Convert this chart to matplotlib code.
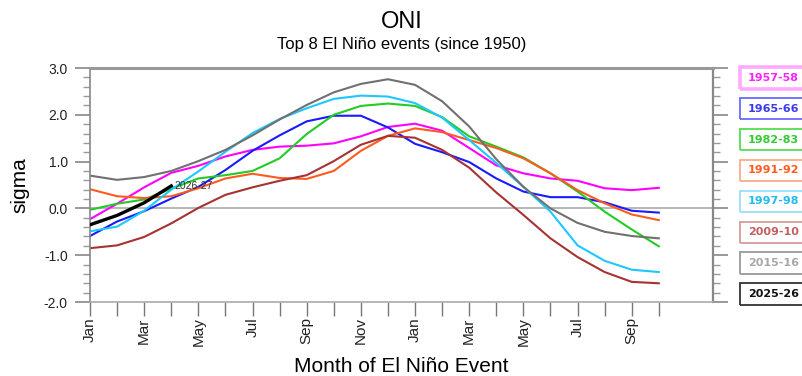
import matplotlib
matplotlib.use("Agg")
import matplotlib.pyplot as plt
from matplotlib.patches import Rectangle
from matplotlib.ticker import MultipleLocator, FixedLocator

months = ["Jan", "Feb", "Mar", "Apr", "May", "Jun", "Jul", "Aug", "Sep", "Oct", "Nov", "Dec",
          "Jan", "Feb", "Mar", "Apr", "May", "Jun", "Jul", "Aug", "Sep", "Oct"]
tick_labels = ["Jan", "", "Mar", "", "May", "", "Jul", "", "Sep", "", "Nov", "",
               "Jan", "", "Mar", "", "May", "", "Jul", "", "Sep", ""]

events = ["1957-58", "1965-66", "1982-83", "1991-92", "1997-98", "2009-10", "2015-16", "2025-26"]

oni_1957 = [-0.23, 0.10, 0.45, 0.76, 0.91, 1.11, 1.25, 1.32, 1.34, 1.39, 1.54, 1.74,
            1.81, 1.66, 1.29, 0.92, 0.75, 0.64, 0.59, 0.43, 0.39, 0.44]
oni_1965 = [-0.59, -0.28, -0.06, 0.21, 0.46, 0.82, 1.23, 1.56, 1.86, 1.98, 1.98, 1.73,
            1.38, 1.20, 0.99, 0.64, 0.36, 0.24, 0.24, 0.13, -0.05, -0.09]
oni_1982 = [-0.03, 0.10, 0.19, 0.42, 0.64, 0.71, 0.80, 1.07, 1.59, 2.00, 2.19, 2.24,
            2.19, 1.95, 1.54, 1.32, 1.09, 0.75, 0.36, -0.07, -0.45, -0.81]
oni_1991 = [0.41, 0.26, 0.22, 0.26, 0.43, 0.64, 0.74, 0.65, 0.63, 0.80, 1.23, 1.55,
            1.71, 1.63, 1.46, 1.29, 1.07, 0.75, 0.39, 0.11, -0.13, -0.25]
oni_1997 = [-0.49, -0.39, -0.05, 0.40, 0.79, 1.21, 1.61, 1.91, 2.14, 2.34, 2.41, 2.39,
            2.25, 1.94, 1.46, 0.97, 0.46, -0.07, -0.79, -1.12, -1.31, -1.36]
oni_2009 = [-0.85, -0.79, -0.61, -0.32, 0.01, 0.29, 0.45, 0.59, 0.71, 1.01, 1.36, 1.55,
            1.51, 1.25, 0.87, 0.34, -0.14, -0.64, -1.04, -1.36, -1.57, -1.60]
oni_2015 = [0.70, 0.61, 0.67, 0.80, 1.01, 1.25, 1.56, 1.90, 2.21, 2.48, 2.66, 2.76,
            2.64, 2.29, 1.75, 1.05, 0.46, 0.00, -0.31, -0.50, -0.59, -0.64]
oni_2025 = [-0.35, -0.15, 0.12, 0.48]

series = [oni_1957, oni_1965, oni_1982, oni_1991, oni_1997, oni_2009, oni_2015, oni_2025]
line_colors = ["#ff00ff", "#1a1aff", "#22cc22", "#ff5a1f", "#1ec8ff", "#a83232", "#707070", "#000000"]
text_colors = ["#ff22ff", "#3a3aee", "#33cc33", "#ff5a1f", "#22bbee", "#c06060", "#a8a8a8", "#111111"]
box_colors = ["#ffaaff", "#6a6aff", "#55dd55", "#ffaa88", "#99e0ff", "#d89a9a", "#999999", "#333333"]
current_label = "2026-27"

W, H = 803, 376
fig = plt.figure(figsize=(W / 100, H / 100), dpi=100)
ax = fig.add_axes([90 / W, 1 - 302 / H, (713 - 90) / W, (302 - 68) / H])

plt.rcParams["font.family"] = ["Liberation Sans", "DejaVu Sans"]

ax.axhline(0, color="#aaaaaa", lw=1.2, zorder=1)
for vals, col in zip(series, line_colors):
    lw = 2.4 if col == "#000000" else 1.5
    ax.plot(range(len(vals)), vals, color=col, lw=lw, zorder=3 if col == "#000000" else 2)

ax.annotate(current_label, xy=(len(oni_2025) - 1, oni_2025[-1]), xytext=(2.5, 0),
            textcoords="offset points", ha="left", va="center", fontsize=7.5,
            color="#333333", family="Liberation Sans")

ax.set_xlim(0, 23)
ax.set_ylim(-2, 3)
ax.xaxis.set_major_locator(FixedLocator(list(range(len(months)))))
ax.set_xticklabels(tick_labels, rotation=90, fontsize=11, family="Liberation Sans")
ax.yaxis.set_major_locator(MultipleLocator(1.0))
ax.yaxis.set_minor_locator(MultipleLocator(0.2))
ax.set_yticklabels([f"{v:.1f}" for v in ax.get_yticks()], fontsize=10, family="Liberation Sans")
ax.set_ylim(-2, 3)

ax.tick_params(axis="x", which="major", direction="out", length=10, width=1.0,
               color="#777777", pad=1, labelcolor="#222222")
ax.tick_params(axis="y", which="major", direction="out", length=11, width=1.2,
               color="#888888", pad=5, labelcolor="#222222", right=True)
ax.tick_params(axis="y", which="minor", direction="out", length=5, width=1.0,
               color="#999999", right=True)

for side in ["left", "right", "bottom"]:
    ax.spines[side].set_color("#888888")
    ax.spines[side].set_linewidth(1.2)
ax.spines["bottom"].set_color("#aaaaaa")
ax.spines["top"].set_color("#999999")
ax.spines["top"].set_linewidth(2.2)
ax.spines["right"].set_linewidth(1.6)

ax.set_ylabel("sigma", fontsize=15, family="Liberation Sans", labelpad=10)
ax.set_xlabel("Month of El Niño Event", fontsize=15, family="Liberation Sans", labelpad=8)

fig.text(0.5, 1 - 22 / H, "ONI", ha="center", va="center", fontsize=17, family="Liberation Sans")
fig.text(0.5, 1 - 45 / H, "Top 8 El Niño events (since 1950)", ha="center", va="center",
         fontsize=12, family="Liberation Sans")

# legend boxes
for k, (name, tc, bc) in enumerate(zip(events, text_colors, box_colors)):
    top = 67 + 30.9 * k
    hgt = 21.5
    lw = 2.6 if k == 0 else 1.3
    rect = Rectangle((740 / W, 1 - (top + hgt) / H), 75 / W, hgt / H,
                     transform=fig.transFigure, fill=False, edgecolor=bc, lw=lw)
    fig.add_artist(rect)
    fig.text(748 / W, 1 - (top + hgt / 2) / H, name, ha="left", va="center",
             fontsize=8.0, fontweight="bold", family="DejaVu Sans", color=tc)

fig.savefig("out.png", dpi=100)
